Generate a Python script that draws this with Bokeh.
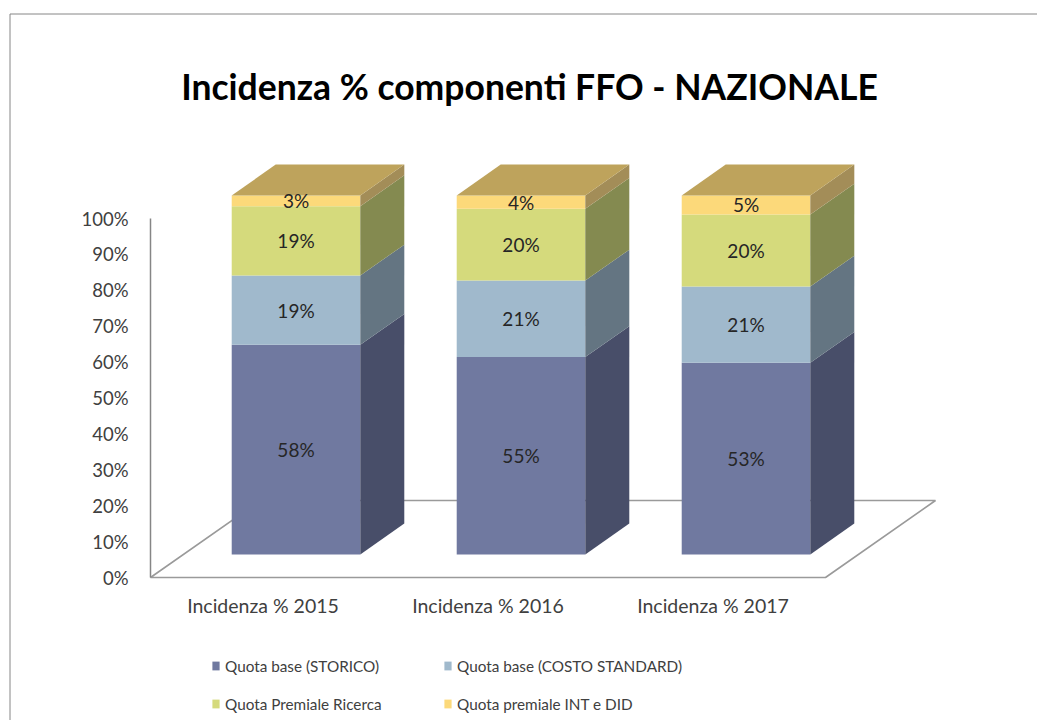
from bokeh.plotting import figure
from bokeh.models import ColumnDataSource, Legend, LegendItem, Range1d, Grid
from bokeh.core.properties import value
from bokeh.embed import file_html
from bokeh.resources import INLINE

# ---------------- data ----------------
categories = ["Incidenza % 2015", "Incidenza % 2016", "Incidenza % 2017"]
series_names = ["Quota base (STORICO)", "Quota base (COSTO STANDARD)",
                "Quota Premiale Ricerca", "Quota premiale INT e DID"]
quota_storico = [58.4, 55.0, 53.4]
quota_costo_standard = [19.3, 21.3, 21.2]
quota_premiale_ricerca = [19.3, 20.0, 20.1]
quota_premiale_int_did = [3.0, 3.7, 5.3]
y_ticks = [0, 10, 20, 30, 40, 50, 60, 70, 80, 90, 100]
y_tick_labels = ["0%", "10%", "20%", "30%", "40%", "50%", "60%", "70%", "80%", "90%", "100%"]
title_text = "Incidenza % componenti FFO - NAZIONALE"

series_values = [quota_storico, quota_costo_standard, quota_premiale_ricerca, quota_premiale_int_did]

# ---------------- style ----------------
FRONT = ["#7079A0", "#A0B9CC", "#D5DA7C", "#FCD97A"]
SIDE = ["#484E69", "#647582", "#848A50", "#A38D58"]
TOP = "#BEA35C"
FONT = "Lato"
W, H = 1037, 720
PX_X = 225.0      # pixels per category
PX_Y = 3.59       # pixels per percent
ZERO_Y = 577.0    # canvas y of 0 %
CAT0_X = 262.5    # canvas x of first category centre


def xd(px):
    return (px - CAT0_X) / PX_X


def yd(py):
    return (ZERO_Y - py) / PX_Y


x_start, x_end = xd(0), xd(W)
y_start, y_end = yd(H), yd(0)

FLOOR_DX = 110 / PX_X
FLOOR_DY = 77 / PX_Y
BAR_W = 1 / 1.75
FRONT_F = 0.3
DEPTH_F = 0.4
fx, fy = FRONT_F * FLOOR_DX, FRONT_F * FLOOR_DY
bdx, bdy = DEPTH_F * FLOOR_DX, DEPTH_F * FLOOR_DY

p = figure(width=W, height=H, x_range=Range1d(x_start, x_end), y_range=Range1d(y_start, y_end),
           toolbar_location=None, output_backend="svg",
           x_axis_location=None, y_axis_location=None,
           min_border_left=0, min_border_right=0, min_border_top=0, min_border_bottom=0)
p.center = [c for c in p.center if not isinstance(c, Grid)]
p.outline_line_color = None
p.background_fill_color = "white"
p.border_fill_color = "white"

# chart border (decoration, left and top edges visible), kept inside the canvas
bx, by = xd(9.5), yd(13.5)
ex, ey = xd(W - 0.2), yd(H - 0.2)
p.segment(x0=[bx, bx], y0=[ey, by], x1=[bx, ex], y1=[by, by], line_color="#868686", line_width=1)

# floor
n = len(categories)
fl = -0.5
fr = n - 0.5
p.patch([fl, fr, fr + FLOOR_DX, fl + FLOOR_DX], [0, 0, FLOOR_DY, FLOOR_DY],
        fill_color="white", line_color="#9a9a9a", line_width=1.6)

# value axis line and tick labels
p.segment(x0=[fl], y0=[y_ticks[0]], x1=[fl], y1=[y_ticks[-1]], line_color="#868686", line_width=1.5)
p.text(x=[fl - 22 / PX_X] * len(y_ticks), y=y_ticks, text=y_tick_labels, text_font=value(FONT),
       text_font_size="18.5px", text_color="#404040", text_align="right", text_baseline="middle")

# bars
front_renderers = []
lab_x, lab_y, lab_t = [], [], []
base = [0.0] * n
for s, vals in enumerate(series_values):
    left = [i - BAR_W / 2 + fx for i in range(n)]
    right = [i + BAR_W / 2 + fx for i in range(n)]
    bottom = [base[i] + fy for i in range(n)]
    top = [base[i] + vals[i] + fy for i in range(n)]
    src = ColumnDataSource(dict(left=left, right=right, bottom=bottom, top=top))
    r = p.quad(left="left", right="right", bottom="bottom", top="top", source=src,
               fill_color=FRONT[s], line_color=None)
    front_renderers.append(r)
    xs = [[right[i], right[i] + bdx, right[i] + bdx, right[i]] for i in range(n)]
    ys = [[bottom[i], bottom[i] + bdy, top[i] + bdy, top[i]] for i in range(n)]
    p.patches(xs=xs, ys=ys, fill_color=SIDE[s], line_color=None)
    for i in range(n):
        lab_x.append(i + fx)
        lab_y.append(base[i] + vals[i] / 2 + fy)
        lab_t.append("%d%%" % round(vals[i]))
        base[i] += vals[i]

# top faces
txs, tys = [], []
for i in range(n):
    l = i - BAR_W / 2 + fx
    r_ = i + BAR_W / 2 + fx
    t = base[i] + fy
    txs.append([l, r_, r_ + bdx, l + bdx])
    tys.append([t, t, t + bdy, t + bdy])
p.patches(xs=txs, ys=tys, fill_color=TOP, line_color=None)

# data labels
p.text(x=lab_x, y=lab_y, text=lab_t, text_font=value(FONT), text_font_size="19px",
       text_color="#262626", text_align="center", text_baseline="middle")

# category labels
CAT_Y = yd(605)
p.text(x=list(range(n)), y=[CAT_Y] * n, text=categories, text_font=value(FONT),
       text_font_size="19.5px", text_color="#404040", text_align="center", text_baseline="middle")

# title
p.text(x=[xd(529)], y=[yd(86)], text=[title_text], text_font=value(FONT), text_font_style="bold",
       text_font_size="35.5px", text_color="black", text_align="center", text_baseline="middle")

# legend
items = [LegendItem(label=series_names[s], renderers=[front_renderers[s]]) for s in range(4)]
legend = Legend(items=items, location=(211, H - 713.7), ncols=2, orientation="horizontal",
                glyph_width=9, glyph_height=11, label_standoff=5, spacing=18,
                padding=0, margin=0, border_line_color=None, background_fill_alpha=0,
                label_text_font=FONT, label_text_font_size="15.3px", label_text_color="#404040",
                label_height=20, label_width=200)
p.add_layout(legend, "center")

open("out.html", "w").write(file_html(p, INLINE))
